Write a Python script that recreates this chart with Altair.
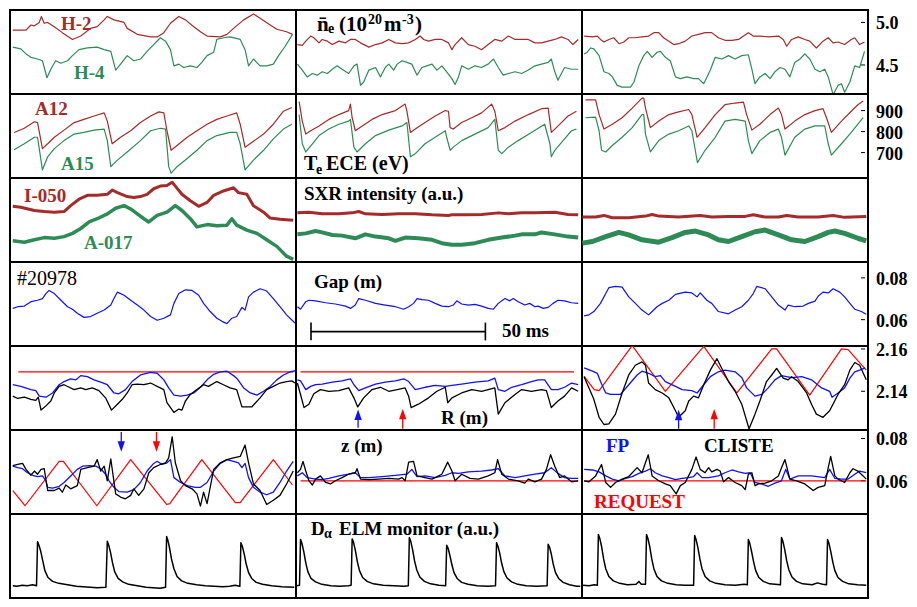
import altair as alt
import pandas as pd

# ---------------- data (t in ms inside each 82 ms window) ----------------
T_RANGE = [0, 82]

# Row 1: line-averaged density ne (1e20 m^-3), channels H-2 (red) and H-4 (green)
NE_C1_RED = [(0.8,4.91),(4.6,4.91),(6.0,4.97),(7.0,4.96),(8.4,5.00),(9.0,5.07),(9.8,4.99),(10.8,5.00),(12.7,4.95),(15.0,4.88),(17.9,4.80),(20.3,4.84),(23.1,4.93),(25.0,4.95),(27.0,5.03),(27.9,5.07),(29.8,5.03),(32.7,5.00),(33.6,4.93),(36.5,4.86),(40.3,4.83),(42.2,4.83),(44.1,4.88),(46.0,4.99),(48.4,5.07),(50.3,5.03),(52.7,4.95),(54.6,4.89),(56.5,4.84),(60.3,4.83),(62.2,4.86),(64.1,4.93),(67.0,5.03),(69.8,5.10),(71.7,5.05),(74.6,4.97),(76.5,4.92),(79.3,4.89),(81.0,4.86)]
NE_C1_GREEN = [(0.8,4.71),(3.1,4.69),(4.6,4.63),(6.0,4.59),(7.9,4.57),(9.3,4.55),(10.6,4.35),(11.7,4.45),(13.1,4.55),(14.6,4.52),(16.5,4.55),(17.9,4.61),(19.8,4.68),(22.2,4.70),(25.0,4.71),(27.0,4.68),(28.9,4.66),(30.3,4.44),(31.7,4.51),(33.6,4.61),(35.5,4.55),(37.4,4.57),(39.3,4.66),(41.2,4.74),(43.1,4.82),(44.6,4.78),(46.0,4.68),(47.0,4.49),(48.4,4.51),(49.8,4.47),(51.7,4.49),(53.6,4.47),(55.0,4.53),(56.5,4.61),(58.4,4.65),(59.3,4.80),(61.2,4.82),(63.1,4.83),(66.0,4.80),(67.4,4.68),(68.4,4.49),(69.8,4.57),(71.7,4.49),(73.6,4.49),(75.5,4.51),(77.0,4.61),(78.9,4.72),(81.0,4.86)]
NE_C2_RED = [(0.4,4.74),(1.8,4.73),(2.8,4.78),(4.2,4.84),(5.1,4.82),(6.6,4.76),(7.5,4.80),(9.0,4.78),(10.4,4.74),(12.3,4.78),(14.2,4.76),(15.6,4.80),(17.0,4.80),(18.5,4.76),(20.9,4.71),(22.8,4.74),(24.7,4.76),(26.6,4.80),(28.5,4.76),(30.4,4.75),(32.3,4.76),(34.2,4.80),(35.6,4.84),(36.6,4.80),(38.0,4.78),(39.9,4.80),(41.8,4.80),(43.7,4.76),(44.7,4.68),(45.6,4.74),(47.5,4.82),(49.4,4.74),(51.3,4.72),(53.2,4.68),(55.1,4.74),(57.0,4.80),(59.0,4.78),(60.9,4.84),(62.8,4.80),(64.7,4.80),(66.6,4.80),(68.5,4.76),(70.4,4.76),(72.3,4.78),(74.2,4.80),(76.1,4.83),(78.0,4.80),(79.4,4.74),(80.9,4.80)]
NE_C2_GREEN = [(0.4,4.51),(1.8,4.44),(3.2,4.36),(4.7,4.40),(6.1,4.38),(7.5,4.42),(9.0,4.40),(10.4,4.45),(11.8,4.49),(13.2,4.45),(15.1,4.40),(16.6,4.49),(17.5,4.51),(18.5,4.26),(19.4,4.30),(20.9,4.44),(22.8,4.47),(24.2,4.36),(25.6,4.47),(26.6,4.51),(28.0,4.44),(29.0,4.51),(30.4,4.55),(31.8,4.53),(33.2,4.51),(34.7,4.38),(36.1,4.47),(37.5,4.49),(39.0,4.51),(40.4,4.44),(41.8,4.49),(43.2,4.42),(44.7,4.34),(45.6,4.27),(46.6,4.36),(47.5,4.49),(49.4,4.45),(51.3,4.49),(53.2,4.47),(55.1,4.51),(56.6,4.57),(58.0,4.47),(59.4,4.38),(60.9,4.40),(62.8,4.42),(64.7,4.40),(66.6,4.44),(68.5,4.49),(70.4,4.51),(72.3,4.53),(73.2,4.57),(74.2,4.42),(75.1,4.32),(76.1,4.40),(77.0,4.47),(79.0,4.45),(80.9,4.45)]
NE_C3_RED = [(0.6,4.84),(3.0,4.83),(4.4,4.84),(5.3,4.80),(6.3,4.77),(7.7,4.80),(9.1,4.82),(10.6,4.75),(12.0,4.77),(13.4,4.82),(15.3,4.82),(17.2,4.83),(19.1,4.84),(20.6,4.88),(22.0,4.88),(23.4,4.82),(24.9,4.78),(26.3,4.74),(27.7,4.75),(29.6,4.78),(31.5,4.84),(33.4,4.86),(35.3,4.88),(37.2,4.88),(39.1,4.82),(41.0,4.79),(43.0,4.79),(44.9,4.80),(46.3,4.84),(47.7,4.88),(49.1,4.84),(51.0,4.84),(53.4,4.83),(56.3,4.84),(57.7,4.80),(58.7,4.72),(60.1,4.80),(62.0,4.83),(63.9,4.80),(65.3,4.78),(67.2,4.70),(69.1,4.78),(70.6,4.82),(72.0,4.76),(73.4,4.77),(75.3,4.74),(77.2,4.80),(78.2,4.82),(79.6,4.74),(81.0,4.77)]
NE_C3_GREEN = [(0.6,4.63),(1.5,4.65),(2.5,4.70),(3.4,4.69),(4.9,4.61),(6.3,4.42),(7.7,4.40),(8.7,4.36),(10.1,4.26),(11.5,4.24),(13.9,4.24),(14.9,4.30),(16.3,4.49),(17.7,4.61),(18.7,4.66),(20.1,4.59),(21.5,4.65),(22.5,4.66),(23.9,4.59),(25.3,4.55),(26.8,4.36),(28.2,4.34),(30.1,4.36),(32.0,4.34),(33.4,4.34),(34.9,4.28),(36.8,4.44),(38.2,4.59),(40.1,4.57),(42.0,4.61),(43.9,4.57),(45.8,4.61),(47.7,4.62),(48.7,4.45),(49.6,4.28),(51.0,4.36),(52.5,4.40),(53.9,4.34),(55.3,4.42),(56.8,4.47),(58.2,4.45),(59.6,4.36),(61.0,4.53),(62.5,4.57),(63.9,4.63),(65.3,4.57),(66.8,4.45),(68.2,4.42),(69.6,4.45),(70.6,4.36),(72.0,4.15),(73.4,4.26),(74.4,4.28),(75.3,4.18),(76.8,4.30),(78.2,4.49),(79.6,4.47),(81.0,4.66)]

# Row 2: Te from ECE (eV), channels A12 (red) and A15 (green)
TE_C1_RED = [(1.2,796),(4.1,816),(7.0,847),(7.9,843),(9.3,719),(10.8,742),(12.7,773),(15.5,807),(18.4,843),(21.2,858),(24.1,874),(27.0,889),(27.9,850),(29.3,742),(31.7,773),(34.6,804),(37.4,843),(40.3,874),(42.7,894),(44.1,889),(45.0,804),(46.2,711),(47.9,734),(50.8,773),(53.6,804),(56.5,835),(59.3,858),(62.2,874),(65.0,889),(66.0,835),(67.4,725),(69.8,754),(72.7,788),(75.5,835),(78.4,897),(80.8,915)]
TE_C1_GREEN = [(1.2,714),(4.1,742),(7.0,773),(7.9,773),(9.3,618),(10.8,680),(12.7,719),(15.5,757),(18.4,788),(21.2,796),(24.1,807),(27.0,812),(27.9,757),(28.9,633),(30.8,664),(33.6,703),(37.4,757),(40.3,804),(43.1,816),(44.6,812),(45.5,633),(46.2,602),(47.9,633),(50.8,672),(53.6,711),(56.5,757),(59.3,781),(63.1,796),(65.0,796),(66.0,742),(67.4,618),(69.8,664),(72.7,711),(75.5,765),(78.4,812),(80.8,835)]
TE_C2_RED = [(0.9,943),(1.8,850),(2.8,788),(4.2,804),(6.6,827),(9.4,858),(12.3,881),(15.1,900),(15.6,931),(16.1,866),(17.0,804),(19.0,827),(21.8,858),(24.7,881),(28.5,900),(31.3,931),(31.8,897),(32.8,796),(34.2,812),(37.0,843),(39.9,874),(42.8,900),(43.7,897),(44.2,819),(45.1,812),(47.5,843),(50.4,866),(53.2,889),(56.1,931),(57.0,897),(58.0,804),(59.9,819),(62.8,850),(66.6,881),(70.4,909),(72.3,912),(73.2,796),(74.2,812),(76.1,843),(78.0,874),(80.4,897)]
TE_C2_GREEN = [(0.9,881),(1.8,742),(2.8,703),(4.7,742),(6.6,781),(9.4,812),(12.3,835),(15.1,850),(15.6,858),(16.6,726),(17.5,703),(19.9,742),(22.8,781),(26.6,807),(30.4,827),(31.8,843),(32.8,680),(34.2,695),(37.0,742),(39.9,773),(42.8,804),(43.2,773),(44.2,711),(45.1,726),(47.5,757),(51.3,788),(55.1,819),(57.0,858),(58.0,711),(59.0,695),(60.9,726),(63.7,757),(67.5,796),(71.3,835),(72.8,742),(73.2,680),(74.2,711),(77.0,765),(79.0,804),(80.4,812)]
TE_C3_RED = [(1.0,951),(3.9,951),(4.9,881),(6.3,812),(8.7,835),(11.5,866),(14.4,912),(17.2,959),(17.7,959),(18.2,912),(19.6,819),(22.0,850),(24.9,881),(27.7,894),(30.6,905),(31.5,881),(33.0,773),(35.3,819),(38.2,881),(41.0,928),(43.9,936),(46.3,940),(47.2,881),(48.7,807),(51.0,835),(53.9,881),(56.3,912),(57.2,881),(58.2,812),(61.0,850),(63.9,881),(66.8,900),(69.1,909),(70.1,866),(71.5,796),(74.4,850),(77.2,897),(79.1,928),(80.6,946)]
TE_C3_GREEN = [(1.0,866),(3.9,869),(4.9,804),(5.6,711),(6.8,703),(8.7,734),(11.5,773),(14.4,819),(17.2,881),(17.7,881),(18.2,788),(19.6,703),(22.0,757),(24.9,788),(27.7,804),(30.6,827),(31.5,804),(33.1,652),(35.3,711),(38.2,773),(41.0,850),(43.9,858),(46.8,850),(47.7,757),(48.7,695),(51.0,757),(53.9,796),(56.3,812),(57.2,773),(58.2,688),(61.0,773),(63.9,812),(66.8,827),(69.6,827),(70.6,742),(71.5,688),(74.4,742),(77.2,796),(80.6,866)]

# Row 3: SXR intensity (a.u.), channels I-050 (red) and A-017 (green)
SXR_C1_RED = [(0.8,57.0),(3.1,56.0),(7.0,52.7),(9.8,51.7),(12.7,51.0),(15.5,51.7),(17.4,57.7),(19.8,64.3),(22.2,68.3),(25.0,68.3),(27.9,69.3),(29.3,73.7),(30.8,71.0),(33.6,67.0),(35.5,66.0),(37.4,67.0),(39.3,69.3),(41.2,75.0),(43.1,77.7),(45.0,78.3),(46.5,81.7),(47.4,77.7),(49.3,69.3),(51.7,62.7),(54.1,57.0),(56.5,61.0),(58.4,68.3),(61.2,72.7),(64.1,76.0),(65.5,71.0),(67.9,69.3),(69.8,57.7),(72.7,51.0),(74.6,45.0),(77.4,43.7),(81.2,42.7)]
SXR_C1_GREEN = [(0.8,21.7),(4.1,20.3),(7.0,22.7),(9.8,25.0),(12.7,24.3),(15.5,26.0),(17.9,29.3),(20.3,34.3),(22.7,41.0),(25.0,44.3),(27.9,49.3),(30.3,55.0),(32.7,57.7),(34.6,54.3),(36.5,49.3),(38.4,44.3),(39.8,41.0),(42.2,47.7),(45.0,51.0),(47.4,57.7),(49.3,52.7),(51.7,44.3),(53.6,36.0),(56.5,38.3),(59.3,37.0),(62.2,37.7),(63.6,44.3),(65.0,37.7),(67.9,32.7),(70.8,29.3),(73.6,22.7),(76.5,16.0),(79.3,6.0),(81.2,2.7)]
SXR_C2_RED = [(0.4,50.3),(3.7,51.0),(7.5,49.3),(12.3,49.3),(16.1,50.3),(18.0,51.7),(19.9,49.3),(24.7,48.7),(29.4,49.3),(34.2,49.3),(39.0,48.3),(43.7,47.7),(44.7,48.3),(48.5,48.3),(53.2,48.7),(58.0,50.3),(60.9,49.3),(64.7,50.3),(68.5,50.3),(74.2,51.0),(78.0,48.7),(80.9,48.3)]
SXR_C2_GREEN = [(0.4,28.3),(2.8,29.3),(5.6,31.7),(7.5,30.3),(10.4,27.7),(13.2,27.0),(17.0,24.3),(19.9,28.3),(22.8,26.0),(26.6,24.3),(28.5,21.7),(31.3,25.0),(35.1,24.3),(39.0,22.7),(41.8,19.3),(44.7,17.7),(47.5,17.7),(51.3,19.3),(55.1,22.7),(59.0,25.0),(62.8,27.0),(64.7,28.3),(68.5,28.3),(70.4,30.3),(74.2,28.3),(78.0,26.0),(80.9,25.0)]
SXR_C3_RED = [(0.1,46.0),(3.9,46.0),(6.3,47.7),(8.7,45.3),(13.4,45.3),(18.2,47.0),(20.1,48.7),(22.0,47.0),(27.7,46.0),(33.9,47.7),(37.2,46.0),(42.0,46.7),(46.8,46.7),(49.1,48.3),(52.5,46.0),(56.3,46.0),(58.7,47.7),(62.0,46.0),(67.7,46.0),(72.0,47.7),(75.3,45.7),(81.5,46.7)]
SXR_C3_GREEN = [(0.1,19.3),(3.0,21.0),(6.8,26.0),(10.6,30.3),(13.4,27.7),(17.2,22.7),(22.0,20.3),(25.8,25.0),(29.6,30.3),(32.5,31.7),(36.3,27.7),(39.1,22.7),(42.0,21.0),(45.8,26.0),(49.6,31.0),(52.5,32.7),(56.3,27.7),(60.1,22.7),(63.9,21.0),(67.7,26.0),(70.6,30.3),(72.5,31.7),(75.3,29.3),(79.1,24.3),(81.5,21.7)]

# Row 4: plasma-wall gap (m)
GAP_C1 = [(0.8,0.0654),(2.2,0.0662),(4.1,0.0665),(6.0,0.0686),(7.9,0.0693),(9.3,0.0701),(10.3,0.0725),(11.2,0.0740),(12.7,0.0725),(14.6,0.0693),(16.5,0.0662),(17.9,0.0650),(19.3,0.0631),(21.2,0.0611),(23.1,0.0615),(25.0,0.0631),(27.0,0.0646),(28.9,0.0670),(29.8,0.0701),(30.8,0.0732),(32.7,0.0717),(34.6,0.0693),(36.5,0.0670),(38.4,0.0646),(40.3,0.0615),(42.2,0.0597),(44.1,0.0607),(46.0,0.0623),(47.0,0.0678),(48.4,0.0725),(50.3,0.0743),(52.2,0.0740),(54.1,0.0717),(55.5,0.0678),(57.4,0.0639),(59.3,0.0607),(60.8,0.0592),(62.2,0.0581),(63.6,0.0607),(65.0,0.0615),(66.5,0.0659),(67.4,0.0646),(68.4,0.0709),(69.8,0.0732),(71.7,0.0748),(73.6,0.0737),(75.5,0.0701),(77.4,0.0662),(79.3,0.0623),(81.7,0.0584)]
GAP_C2 = [(0.4,0.0662),(1.3,0.0650),(2.8,0.0686),(3.7,0.0693),(5.6,0.0690),(8.5,0.0681),(11.3,0.0675),(14.2,0.0665),(15.6,0.0654),(17.0,0.0670),(18.0,0.0701),(19.9,0.0693),(22.8,0.0678),(25.6,0.0670),(28.5,0.0662),(30.9,0.0650),(32.3,0.0662),(33.7,0.0678),(34.7,0.0701),(36.1,0.0696),(38.0,0.0693),(39.9,0.0678),(41.8,0.0665),(43.7,0.0662),(45.1,0.0670),(46.1,0.0690),(47.5,0.0675),(49.4,0.0670),(51.3,0.0673),(53.2,0.0665),(55.1,0.0654),(56.6,0.0650),(58.0,0.0678),(59.9,0.0701),(61.3,0.0690),(62.3,0.0701),(63.7,0.0686),(65.6,0.0670),(67.0,0.0678),(68.5,0.0662),(69.4,0.0665),(70.9,0.0654),(72.3,0.0659),(73.7,0.0678),(75.1,0.0693),(77.0,0.0690),(79.0,0.0681),(80.9,0.0678)]
GAP_C3 = [(0.6,0.0618),(2.0,0.0623),(3.4,0.0639),(5.3,0.0678),(6.8,0.0725),(7.7,0.0753),(9.6,0.0759),(11.5,0.0756),(13.4,0.0709),(15.3,0.0678),(17.2,0.0646),(19.1,0.0623),(20.1,0.0639),(21.5,0.0662),(23.0,0.0678),(24.9,0.0693),(26.8,0.0721),(29.6,0.0732),(31.5,0.0728),(33.0,0.0709),(33.9,0.0728),(35.8,0.0693),(37.2,0.0678),(39.1,0.0639),(42.0,0.0628),(43.9,0.0646),(45.8,0.0662),(47.7,0.0693),(49.1,0.0725),(50.1,0.0759),(52.5,0.0748),(54.4,0.0709),(56.3,0.0670),(58.2,0.0646),(59.1,0.0670),(61.0,0.0662),(63.4,0.0665),(64.9,0.0678),(66.8,0.0689),(67.7,0.0712),(69.1,0.0732),(70.6,0.0728),(72.0,0.0748),(73.9,0.0732),(75.3,0.0709),(76.8,0.0678),(78.2,0.0650),(80.1,0.0639),(81.5,0.0626)]

# Row 5: major radius R (m): REQUEST (red), FP (blue), CLISTE (black)
R_C1_REQ = [(2.4,2.1492),(81.2,2.1492)]
R_C1_FP = [(0.8,2.1431),(3.1,2.1423),(6.0,2.1408),(7.4,2.1403),(8.4,2.1377),(10.3,2.1372),(12.2,2.1392),(14.1,2.1431),(15.5,2.1446),(17.4,2.1459),(18.9,2.1454),(20.3,2.1474),(22.2,2.1469),(24.1,2.1454),(26.0,2.1443),(27.9,2.1431),(29.8,2.1392),(31.2,2.1388),(33.1,2.1408),(35.0,2.1446),(37.4,2.1477),(40.3,2.1489),(42.2,2.1485),(44.1,2.1454),(45.5,2.1416),(47.0,2.1382),(48.9,2.1377),(50.8,2.1382),(52.7,2.1392),(54.6,2.1419),(56.5,2.1454),(58.4,2.1480),(60.3,2.1492),(62.2,2.1495),(64.1,2.1474),(65.0,2.1462),(67.0,2.1416),(68.9,2.1392),(70.8,2.1382),(72.7,2.1400),(74.6,2.1423),(76.5,2.1454),(78.4,2.1477),(80.3,2.1492),(81.7,2.1497)]
R_C1_CLISTE = [(0.8,2.1377),(2.2,2.1366),(4.1,2.1372),(6.0,2.1362),(7.4,2.1357),(8.1,2.1372),(8.9,2.1311),(10.3,2.1331),(11.7,2.1354),(12.7,2.1392),(14.1,2.1423),(15.5,2.1431),(17.0,2.1419),(18.4,2.1408),(20.3,2.1416),(21.7,2.1408),(23.6,2.1416),(25.5,2.1403),(27.4,2.1369),(29.1,2.1311),(30.8,2.1339),(32.2,2.1362),(33.6,2.1392),(35.0,2.1431),(36.5,2.1434),(38.4,2.1431),(40.3,2.1439),(42.2,2.1423),(44.1,2.1408),(45.0,2.1346),(47.0,2.1300),(48.4,2.1316),(49.3,2.1311),(50.3,2.1354),(51.7,2.1385),(53.6,2.1408),(55.5,2.1431),(56.9,2.1423),(59.3,2.1446),(61.2,2.1431),(63.1,2.1416),(65.0,2.1408),(66.5,2.1326),(69.3,2.1326),(71.7,2.1369),(73.6,2.1408),(75.5,2.1423),(77.4,2.1439),(79.3,2.1446),(80.8,2.1449),(81.7,2.1439)]
R_C2_REQ = [(1.3,2.1492),(79.7,2.1492)]
R_C2_FP = [(0.4,2.1454),(1.3,2.1449),(2.8,2.1408),(4.2,2.1423),(5.6,2.1431),(7.5,2.1434),(10.4,2.1443),(13.2,2.1449),(15.6,2.1459),(16.6,2.1431),(18.0,2.1403),(19.9,2.1416),(22.8,2.1434),(25.6,2.1443),(28.5,2.1449),(30.9,2.1459),(32.3,2.1446),(34.2,2.1408),(37.0,2.1419),(39.9,2.1428),(42.8,2.1423),(44.7,2.1428),(47.5,2.1434),(51.3,2.1443),(55.1,2.1449),(57.0,2.1462),(58.0,2.1408),(59.9,2.1400),(61.8,2.1419),(64.7,2.1431),(67.5,2.1446),(69.4,2.1454),(71.3,2.1454),(73.2,2.1408),(75.1,2.1408),(77.0,2.1419),(79.0,2.1439),(80.9,2.1431)]
R_C2_CLISTE = [(0.4,2.1439),(1.3,2.1385),(2.3,2.1323),(3.7,2.1339),(5.1,2.1388),(7.0,2.1408),(9.4,2.1400),(12.3,2.1403),(15.1,2.1416),(16.6,2.1369),(17.7,2.1326),(19.4,2.1369),(21.8,2.1408),(24.2,2.1419),(26.6,2.1400),(29.0,2.1408),(31.3,2.1416),(32.3,2.1377),(33.0,2.1323),(35.1,2.1339),(38.0,2.1369),(40.4,2.1400),(42.8,2.1419),(43.5,2.1346),(44.7,2.1369),(47.5,2.1392),(50.4,2.1408),(53.2,2.1400),(57.0,2.1416),(58.0,2.1292),(59.9,2.1346),(62.8,2.1385),(64.7,2.1408),(67.5,2.1400),(70.4,2.1408),(71.8,2.1403),(73.2,2.1323),(75.1,2.1354),(77.0,2.1377),(79.0,2.1416),(80.9,2.1400)]
R_C3_REQ = [(0.6,2.1470),(3.5,2.1408),(4.9,2.1403),(14.4,2.1616),(23.9,2.1400),(34.9,2.1612),(44.4,2.1392),(54.4,2.1600),(55.8,2.1600),(65.3,2.1382),(74.4,2.1600),(76.3,2.1597),(81.5,2.1500)]
R_C3_FP = [(0.6,2.1511),(3.0,2.1495),(4.4,2.1485),(5.3,2.1446),(6.8,2.1392),(8.2,2.1385),(11.0,2.1385),(13.4,2.1431),(15.8,2.1477),(17.2,2.1495),(19.1,2.1485),(21.0,2.1469),(22.5,2.1474),(23.9,2.1446),(26.8,2.1423),(28.7,2.1408),(31.5,2.1403),(33.0,2.1392),(34.9,2.1431),(36.8,2.1469),(39.1,2.1492),(41.0,2.1500),(43.9,2.1492),(45.8,2.1465),(47.2,2.1416),(49.6,2.1377),(51.5,2.1385),(53.4,2.1416),(55.3,2.1454),(57.2,2.1474),(60.1,2.1465),(63.0,2.1469),(65.8,2.1454),(68.7,2.1416),(71.0,2.1400),(71.7,2.1372),(73.4,2.1392),(75.3,2.1416),(76.8,2.1462),(78.2,2.1492),(79.6,2.1500),(81.2,2.1511)]
R_C3_CLISTE = [(0.6,2.1469),(2.0,2.1416),(3.4,2.1362),(4.9,2.1277),(6.3,2.1243),(7.7,2.1246),(9.6,2.1292),(11.5,2.1392),(13.4,2.1477),(15.3,2.1523),(17.2,2.1539),(18.2,2.1523),(19.1,2.1439),(21.0,2.1408),(23.0,2.1392),(24.9,2.1369),(26.8,2.1308),(27.7,2.1277),(29.6,2.1308),(30.6,2.1354),(32.0,2.1377),(33.4,2.1369),(34.9,2.1431),(36.8,2.1500),(38.7,2.1554),(40.1,2.1508),(42.0,2.1446),(43.9,2.1400),(45.8,2.1339),(47.9,2.1223),(49.6,2.1292),(51.0,2.1354),(52.9,2.1446),(54.4,2.1477),(55.8,2.1508),(57.7,2.1462),(59.1,2.1454),(60.1,2.1469),(62.0,2.1446),(64.4,2.1392),(65.8,2.1339),(67.2,2.1292),(69.1,2.1277),(71.0,2.1308),(73.4,2.1385),(75.3,2.1431),(76.8,2.1500),(78.2,2.1536),(79.6,2.1523),(81.5,2.1454)]

# Row 6: vertical position z (m)
Z_C1_REQ = [(0.8,0.0554),(4.3,0.0482),(14.1,0.0692),(15.3,0.0692),(24.9,0.0482),(34.6,0.0700),(44.9,0.0488),(45.8,0.0492),(55.0,0.0700),(64.6,0.0497),(66.0,0.0497),(75.5,0.0700),(81.0,0.0580)]
Z_C1_FP = [(0.8,0.0669),(2.2,0.0662),(3.6,0.0657),(5.0,0.0638),(6.5,0.0626),(7.9,0.0620),(9.3,0.0623),(10.3,0.0600),(10.8,0.0569),(12.2,0.0565),(14.1,0.0574),(15.5,0.0592),(17.4,0.0623),(19.3,0.0654),(20.8,0.0669),(22.7,0.0672),(24.6,0.0669),(26.0,0.0657),(27.4,0.0631),(28.4,0.0600),(29.8,0.0569),(31.2,0.0549),(33.6,0.0546),(35.5,0.0558),(37.4,0.0592),(39.3,0.0646),(41.2,0.0682),(42.2,0.0692),(43.6,0.0677),(45.0,0.0685),(46.0,0.0700),(47.0,0.0615),(48.9,0.0592),(50.8,0.0577),(53.1,0.0569),(54.6,0.0569),(56.5,0.0592),(58.4,0.0646),(60.3,0.0682),(62.2,0.0700),(64.1,0.0692),(65.5,0.0685),(66.5,0.0662),(67.4,0.0682),(68.4,0.0615),(69.8,0.0569),(71.7,0.0546),(73.6,0.0534),(75.5,0.0546),(77.4,0.0592),(79.3,0.0646),(81.2,0.0692)]
Z_C1_CLISTE = [(0.8,0.0672),(2.2,0.0677),(3.6,0.0682),(4.6,0.0654),(6.0,0.0626),(7.0,0.0646),(7.9,0.0631),(8.9,0.0654),(9.8,0.0657),(10.8,0.0554),(12.7,0.0554),(14.1,0.0565),(15.0,0.0546),(16.0,0.0580),(17.4,0.0562),(19.3,0.0577),(20.3,0.0654),(22.2,0.0662),(24.1,0.0669),(25.0,0.0700),(26.0,0.0646),(27.0,0.0669),(27.9,0.0600),(28.9,0.0703),(30.3,0.0538),(31.7,0.0523),(33.1,0.0515),(34.6,0.0531),(35.5,0.0562),(36.9,0.0531),(38.4,0.0562),(39.8,0.0638),(41.2,0.0662),(43.1,0.0677),(44.6,0.0685),(45.5,0.0708),(46.5,0.0808),(47.4,0.0685),(48.9,0.0600),(50.3,0.0577),(52.2,0.0562),(53.6,0.0538),(54.6,0.0480),(55.5,0.0546),(56.5,0.0492),(58.4,0.0654),(60.3,0.0685),(62.2,0.0700),(64.1,0.0708),(66.0,0.0715),(67.4,0.0769),(68.4,0.0685),(69.8,0.0585),(71.7,0.0554),(73.6,0.0488),(75.5,0.0508),(77.4,0.0531),(79.3,0.0585),(81.2,0.0646)]
Z_C2_REQ = [(1.3,0.0600),(80.9,0.0600)]
Z_C2_FP = [(0.4,0.0623),(1.8,0.0638),(3.2,0.0615),(5.6,0.0608),(7.5,0.0605),(9.4,0.0611),(12.3,0.0623),(15.1,0.0631),(17.0,0.0638),(18.5,0.0615),(20.9,0.0615),(24.7,0.0620),(28.5,0.0626),(31.8,0.0631),(33.2,0.0654),(34.7,0.0620),(37.0,0.0623),(39.9,0.0615),(42.8,0.0626),(44.7,0.0638),(46.6,0.0635),(49.4,0.0642),(53.2,0.0646),(56.1,0.0651),(58.0,0.0657),(59.9,0.0623),(62.8,0.0615),(65.6,0.0623),(68.5,0.0631),(71.3,0.0638),(73.2,0.0662),(75.1,0.0635),(77.0,0.0615),(79.0,0.0611),(80.9,0.0611)]
Z_C2_CLISTE = [(0.4,0.0638),(1.3,0.0654),(2.0,0.0692),(2.8,0.0646),(3.7,0.0600),(4.7,0.0580),(5.6,0.0608),(7.0,0.0623),(8.5,0.0592),(9.9,0.0585),(11.3,0.0600),(13.2,0.0615),(15.1,0.0631),(17.0,0.0638),(17.5,0.0657),(18.5,0.0608),(20.9,0.0605),(23.7,0.0608),(26.6,0.0611),(29.4,0.0608),(30.4,0.0615),(31.3,0.0600),(32.3,0.0688),(33.7,0.0692),(34.7,0.0623),(37.0,0.0615),(39.0,0.0608),(41.8,0.0631),(43.5,0.0688),(44.7,0.0646),(45.6,0.0600),(47.5,0.0631),(49.9,0.0611),(52.3,0.0608),(55.1,0.0623),(57.0,0.0638),(57.8,0.0700),(59.0,0.0631),(60.9,0.0608),(63.7,0.0600),(65.6,0.0589),(66.6,0.0608),(68.5,0.0595),(70.4,0.0608),(71.8,0.0654),(73.0,0.0723),(74.2,0.0669),(75.6,0.0615),(77.0,0.0623),(79.0,0.0595),(80.9,0.0600)]
Z_C3_REQ = [(0.6,0.0600),(81.5,0.0600)]
Z_C3_FP = [(0.6,0.0654),(3.0,0.0651),(4.9,0.0642),(6.8,0.0623),(8.7,0.0608),(10.6,0.0600),(12.5,0.0611),(14.4,0.0620),(16.3,0.0635),(18.2,0.0646),(19.6,0.0657),(21.0,0.0638),(23.0,0.0623),(24.9,0.0615),(26.8,0.0605),(28.7,0.0611),(30.6,0.0615),(32.0,0.0620),(33.0,0.0638),(34.4,0.0615),(36.3,0.0615),(39.1,0.0623),(41.0,0.0638),(43.0,0.0651),(44.9,0.0642),(46.8,0.0635),(48.2,0.0638),(49.6,0.0592),(51.5,0.0585),(53.4,0.0574),(55.3,0.0589),(57.2,0.0600),(58.4,0.0654),(59.6,0.0608),(62.0,0.0623),(65.8,0.0623),(69.6,0.0615),(71.0,0.0654),(72.5,0.0611),(74.4,0.0608),(76.3,0.0608),(78.2,0.0631),(79.6,0.0646),(81.5,0.0638)]
Z_C3_CLISTE = [(0.6,0.0600),(2.0,0.0595),(3.9,0.0623),(5.6,0.0677),(6.8,0.0592),(8.2,0.0569),(9.6,0.0592),(11.5,0.0608),(13.4,0.0620),(15.8,0.0662),(17.2,0.0638),(19.0,0.0723),(20.1,0.0623),(22.0,0.0600),(23.9,0.0585),(25.3,0.0577),(27.0,0.0538),(28.2,0.0577),(29.6,0.0592),(31.5,0.0654),(32.7,0.0712),(33.9,0.0654),(35.3,0.0638),(36.3,0.0662),(37.2,0.0642),(38.7,0.0654),(39.6,0.0646),(40.6,0.0595),(42.0,0.0615),(43.9,0.0592),(45.8,0.0577),(46.8,0.0558),(47.7,0.0631),(48.7,0.0638),(49.6,0.0577),(50.6,0.0585),(52.5,0.0589),(54.4,0.0600),(56.3,0.0623),(57.2,0.0662),(58.2,0.0700),(59.6,0.0608),(61.5,0.0600),(63.9,0.0585),(66.3,0.0554),(67.7,0.0569),(69.6,0.0577),(70.6,0.0662),(71.3,0.0715),(72.5,0.0623),(73.4,0.0608),(75.3,0.0592),(76.8,0.0638),(77.7,0.0657),(79.1,0.0646),(80.6,0.0623),(81.5,0.0608)]

# Row 7: D-alpha ELM monitor (a.u.)
DA_C1 = [(0.8,12.5),(2.0,12.0),(3.5,13.0),(5.0,12.5),(6.5,13.5),(7.6,12.5),(7.9,57.5),(8.3,54.0),(8.8,48.0),(9.4,38.0),(10.0,28.0),(10.9,21.0),(12.2,17.0),(14.0,15.0),(16.5,13.5),(19.0,12.0),(21.0,11.5),(23.0,11.0),(25.0,10.5),(27.5,11.0),(27.9,58.0),(28.3,54.0),(28.8,47.0),(29.4,36.0),(30.0,27.0),(31.0,20.0),(32.3,16.5),(34.0,14.0),(36.5,12.5),(39.0,11.0),(41.0,10.5),(43.0,10.0),(44.6,11.0),(44.9,63.0),(45.2,60.0),(45.7,52.0),(46.3,40.0),(47.0,30.0),(47.9,22.0),(49.2,17.5),(51.0,15.0),(53.5,13.5),(56.0,12.5),(58.5,12.0),(61.0,11.5),(63.0,12.0),(64.5,13.0),(65.9,12.0),(66.2,56.5),(66.6,53.0),(67.1,46.0),(67.7,35.0),(68.4,26.0),(69.3,20.0),(70.6,16.0),(72.4,14.0),(75.0,12.5),(78.0,11.5),(81.5,11.0)]
DA_C2 = [(0.3,12.5),(1.0,13.0),(1.3,60.0),(1.7,56.0),(2.2,48.0),(2.8,36.0),(3.4,27.0),(4.3,20.0),(5.6,16.5),(7.4,14.0),(10.0,12.5),(12.5,12.0),(15.0,12.5),(15.8,13.0),(16.1,60.5),(16.5,57.0),(17.0,49.0),(17.6,37.0),(18.2,28.0),(19.1,21.0),(20.4,17.0),(22.2,14.5),(25.0,13.0),(28.0,12.5),(31.0,12.0),(32.2,12.5),(32.5,62.0),(32.9,58.0),(33.4,50.0),(34.0,38.0),(34.6,29.0),(35.5,21.5),(36.8,17.0),(38.6,14.5),(41.0,13.0),(42.9,12.5),(43.2,54.0),(43.6,51.0),(44.1,44.0),(44.7,34.0),(45.3,26.0),(46.2,20.0),(47.5,16.0),(49.3,14.0),(52.0,12.5),(55.0,12.0),(57.2,12.5),(57.5,56.5),(57.9,53.0),(58.4,46.0),(59.0,35.0),(59.6,27.0),(60.5,20.5),(61.8,16.5),(63.6,14.0),(66.0,12.5),(69.0,12.0),(72.0,12.5),(72.3,55.0),(72.7,52.0),(73.2,45.0),(73.8,34.0),(74.4,26.0),(75.3,20.0),(76.6,16.0),(78.4,13.5),(80.5,12.0),(81.5,12.0)]
DA_C3 = [(0.3,13.0),(2.0,12.5),(3.5,13.5),(4.4,13.0),(4.7,65.0),(5.1,61.0),(5.6,53.0),(6.2,40.0),(6.8,30.0),(7.7,22.0),(9.0,17.5),(10.8,15.0),(13.0,13.5),(15.5,14.0),(16.3,17.0),(17.0,14.0),(18.2,14.0),(18.5,65.0),(18.9,61.0),(19.4,53.0),(20.0,40.0),(20.6,30.0),(21.5,22.0),(22.8,17.5),(24.6,15.0),(27.0,13.5),(29.5,13.0),(32.0,13.0),(32.3,64.0),(32.7,60.0),(33.2,52.0),(33.8,40.0),(34.4,30.0),(35.3,22.0),(36.6,17.5),(38.4,15.0),(41.0,13.5),(44.0,13.0),(46.5,14.0),(47.4,13.5),(47.7,60.0),(48.1,56.0),(48.6,48.0),(49.2,37.0),(49.8,28.0),(50.7,21.0),(52.0,17.0),(53.8,14.5),(56.9,13.5),(57.2,62.0),(57.6,58.0),(58.1,50.0),(58.7,38.0),(59.3,29.0),(60.2,21.5),(61.5,17.0),(63.3,14.5),(66.0,13.5),(67.5,15.5),(69.0,14.0),(70.1,13.5),(70.4,60.0),(70.8,56.0),(71.3,48.0),(71.9,37.0),(72.5,28.0),(73.4,21.0),(74.7,17.0),(76.5,14.5),(79.0,13.5),(81.5,13.0)]

# annotations: arrows (time, shaft end, head centre), 50 ms scale bar, axis ticks
ARROWS_R_C2 = [(17.8, 2.1228, 2.1289, "blue"), (30.6, 2.1223, 2.1292, "red")]
ARROWS_R_C3 = [(27.7, 2.1223, 2.1288, "blue"), (37.9, 2.1223, 2.1292, "red")]
ARROWS_Z_C1 = [(31.9, 0.0831, 0.0762, "blue"), (42.0, 0.0831, 0.0762, "red")]
SCALE_BAR_T = [4.3, 54.3]
SCALE_BAR_V = 0.0543
SCALE_BAR_TICK = [0.0501, 0.0586]
NE_TICKS = [5.0, 4.5]
NE_TICK_TEXT = ["5.0", "4.5"]
TE_TICKS = [900, 800, 700]
TE_TICK_TEXT = ["900", "800", "700"]
GAP_TICKS = [0.08, 0.06]
GAP_TICK_TEXT = ["0.08", "0.06"]
R_TICKS = [2.16, 2.14]
R_TICK_TEXT = ["2.16", "2.14"]
Z_TICKS = [0.08, 0.06]
Z_TICK_TEXT = ["0.08", "0.06"]

# ---------------- styling ----------------
RED = "#a52a2a"
GREEN = "#2e8b57"
BLUE = "#1010ff"
BLACK = "#000000"
REQ = "#ff0000"
FONT = "Liberation Serif"
W, H = 286, 84

DOM_NE = [4.159, 5.146]
DOM_TE = [579, 979]
DOM_SXR = [0, 86]
DOM_GAP = [0.0474, 0.0876]
DOM_R = [2.1217, 2.1614]
DOM_Z = [0.0443, 0.0840]
DOM_DA = [0, 86]

ONE = pd.DataFrame({"k": [0]})


def xenc(field="t"):
    return alt.X(f"{field}:Q", scale=alt.Scale(domain=T_RANGE, nice=False, zero=False), axis=None)


def yenc(dom, field="v"):
    return alt.Y(f"{field}:Q", scale=alt.Scale(domain=dom, nice=False, zero=False), axis=None)


def line(pairs, color, width, dom):
    d = pd.DataFrame(pairs, columns=["t", "v"])
    return alt.Chart(d).mark_line(color=color, strokeWidth=width, clip=True,
                                  strokeJoin="round").encode(x=xenc(), y=yenc(dom))


def label(text, x, y, color=BLACK, size=19, weight="bold"):
    return alt.Chart(ONE).mark_text(text=text, color=color, fontSize=size, fontWeight=weight,
                                    font=FONT, align="left", baseline="alphabetic").encode(
        x=alt.value(x), y=alt.value(y))


def axis_layers(ticks, texts, dom):
    d = pd.DataFrame({"v": ticks, "txt": texts})
    marks = alt.Chart(d).mark_rule(color="black", strokeWidth=1).encode(
        y=yenc(dom), x=alt.value(W - 7), x2=alt.value(W - 3))
    labels = alt.Chart(d).mark_text(font=FONT, fontSize=18, fontWeight="bold", color="black",
                                    align="left", baseline="middle", dy=2).encode(
        y=yenc(dom), x=alt.value(W + 8), text="txt:N")
    return [marks, labels]


UP = "M-0.7,1L0,-1L0.7,1Z"
DOWN = "M-0.7,-1L0,1L0.7,-1Z"


def arrows(specs, dom, up=True):
    out = []
    for t, base, head, c in specs:
        col = BLUE if c == "blue" else REQ
        d = pd.DataFrame({"t": [t], "base": [base], "head": [head]})
        out.append(alt.Chart(d).mark_rule(color=col, strokeWidth=1.3).encode(
            x=xenc(), y=yenc(dom, "base"), y2="head:Q"))
        out.append(alt.Chart(d).mark_point(shape=UP if up else DOWN, filled=True, color=col,
                                           size=110, opacity=1, strokeWidth=0).encode(
            x=xenc(), y=yenc(dom, "head")))
    return out


def scale_bar(dom):
    bar = pd.DataFrame({"t": [SCALE_BAR_T[0]], "t2": [SCALE_BAR_T[1]], "v": [SCALE_BAR_V]})
    ends = pd.DataFrame({"t": SCALE_BAR_T, "lo": [SCALE_BAR_TICK[0]] * 2, "hi": [SCALE_BAR_TICK[1]] * 2})
    return [
        alt.Chart(bar).mark_rule(color="black", strokeWidth=1.6).encode(x=xenc(), x2="t2:Q", y=yenc(dom)),
        alt.Chart(ends).mark_rule(color="black", strokeWidth=1.6).encode(x=xenc(), y=yenc(dom, "lo"), y2="hi:Q"),
    ]


def panel(layers):
    return alt.layer(*layers).properties(width=W, height=H)


rows = []

# Row 1: density
rows.append([
    panel([line(NE_C1_RED, RED, 1.2, DOM_NE), line(NE_C1_GREEN, GREEN, 1.2, DOM_NE),
           label("H-2", 51, 20, RED), label("H-4", 64, 69, GREEN)]),
    panel([line(NE_C2_RED, RED, 1.2, DOM_NE), line(NE_C2_GREEN, GREEN, 1.2, DOM_NE),
           label("n\u0304", 21, 20.5, size=21), label("e", 32, 23, size=14),
           label("(10", 43, 20.5, size=21), label("20", 72, 13.5, size=14),
           label("m", 88, 20.5, size=21), label("-3", 106, 13.5, size=14), label(")", 119, 20.5, size=21)]),
    panel(axis_layers(NE_TICKS, NE_TICK_TEXT, DOM_NE)
          + [line(NE_C3_RED, RED, 1.2, DOM_NE), line(NE_C3_GREEN, GREEN, 1.2, DOM_NE)]),
])

# Row 2: Te
rows.append([
    panel([line(TE_C1_RED, RED, 1.2, DOM_TE), line(TE_C1_GREEN, GREEN, 1.2, DOM_TE),
           label("A12", 25, 21, RED), label("A15", 51, 76, GREEN)]),
    panel([line(TE_C2_RED, RED, 1.2, DOM_TE), line(TE_C2_GREEN, GREEN, 1.2, DOM_TE),
           label("T", 8, 76, size=20), label("e", 20, 80, size=14), label("ECE (eV)", 30, 76, size=20)]),
    panel(axis_layers(TE_TICKS, TE_TICK_TEXT, DOM_TE)
          + [line(TE_C3_RED, RED, 1.2, DOM_TE), line(TE_C3_GREEN, GREEN, 1.2, DOM_TE)]),
])

# Row 3: SXR
rows.append([
    panel([line(SXR_C1_RED, RED, 3, DOM_SXR), line(SXR_C1_GREEN, GREEN, 3.5, DOM_SXR),
           label("I-050", 14, 24, RED), label("A-017", 74, 71, GREEN)]),
    panel([line(SXR_C2_RED, RED, 3, DOM_SXR), line(SXR_C2_GREEN, GREEN, 4, DOM_SXR),
           label("SXR intensity (a.u.)", 8, 22)]),
    panel([line(SXR_C3_RED, RED, 3, DOM_SXR), line(SXR_C3_GREEN, GREEN, 5, DOM_SXR)]),
])

# Row 4: gap
rows.append([
    panel([line(GAP_C1, BLUE, 1.2, DOM_GAP), label("#20978", 7, 23, size=20, weight="normal")]),
    panel([line(GAP_C2, BLUE, 1.2, DOM_GAP), label("Gap (m)", 18, 26)] + scale_bar(DOM_GAP)
          + [label("50 ms", 206, 75)]),
    panel(axis_layers(GAP_TICKS, GAP_TICK_TEXT, DOM_GAP) + [line(GAP_C3, BLUE, 1.2, DOM_GAP)]),
])

# Row 5: R
rows.append([
    panel([line(R_C1_REQ, REQ, 1.2, DOM_R), line(R_C1_FP, BLUE, 1.3, DOM_R),
           line(R_C1_CLISTE, BLACK, 1.3, DOM_R)]),
    panel([line(R_C2_REQ, REQ, 1.2, DOM_R), line(R_C2_FP, BLUE, 1.3, DOM_R),
           line(R_C2_CLISTE, BLACK, 1.3, DOM_R)] + arrows(ARROWS_R_C2, DOM_R, up=True)
          + [label("R (m)", 145, 78)]),
    panel(axis_layers(R_TICKS, R_TICK_TEXT, DOM_R)
          + [line(R_C3_REQ, REQ, 1.2, DOM_R), line(R_C3_FP, BLUE, 1.3, DOM_R),
             line(R_C3_CLISTE, BLACK, 1.3, DOM_R)]
          + arrows(ARROWS_R_C3, DOM_R, up=True)),
])

# Row 6: z
rows.append([
    panel([line(Z_C1_REQ, REQ, 1.2, DOM_Z), line(Z_C1_FP, BLUE, 1.3, DOM_Z),
           line(Z_C1_CLISTE, BLACK, 1.3, DOM_Z)] + arrows(ARROWS_Z_C1, DOM_Z, up=False)),
    panel([line(Z_C2_REQ, REQ, 1.2, DOM_Z), line(Z_C2_FP, BLUE, 1.3, DOM_Z),
           line(Z_C2_CLISTE, BLACK, 1.3, DOM_Z), label("z (m)", 45, 22)]),
    panel(axis_layers(Z_TICKS, Z_TICK_TEXT, DOM_Z)
          + [line(Z_C3_REQ, REQ, 1.2, DOM_Z), line(Z_C3_FP, BLUE, 1.3, DOM_Z),
             line(Z_C3_CLISTE, BLACK, 1.3, DOM_Z),
             label("FP", 24, 22, BLUE), label("CLISTE", 122, 22), label("REQUEST", 12, 78, REQ)]),
])

# Row 7: D-alpha
rows.append([
    panel([line(DA_C1, BLACK, 1.5, DOM_DA)]),
    panel([line(DA_C2, BLACK, 1.5, DOM_DA), label("D", 15, 21), label("\u03b1", 28, 24, size=14),
           label("ELM monitor (a.u.)", 43, 21)]),
    panel([line(DA_C3, BLACK, 1.5, DOM_DA)]),
])

cells = [p for r in rows for p in r]
chart = alt.concat(*cells, columns=3, spacing=0, bounds="flush").properties(
    padding={"left": 1, "top": 1, "right": 0, "bottom": 1},
    background="white",
).configure_view(stroke="black", strokeWidth=2)

chart.save("out.html", embed_options={"renderer": "svg", "actions": False})
